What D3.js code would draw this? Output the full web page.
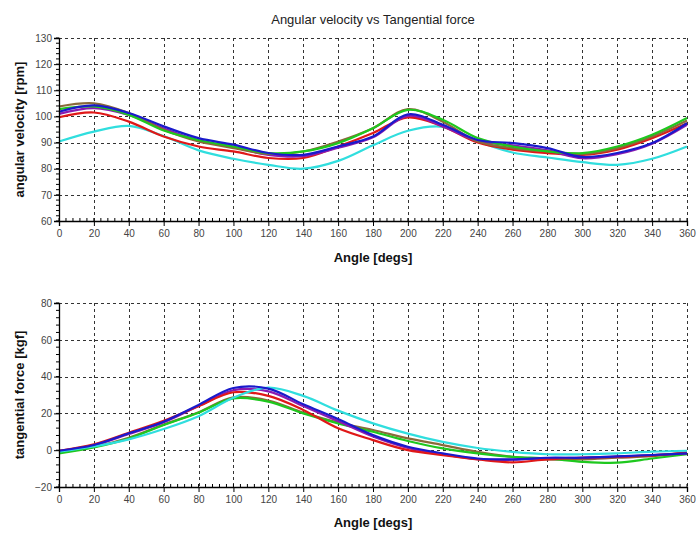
<!DOCTYPE html>
<html>
<head>
<meta charset="utf-8">
<script src="https://cdn.jsdelivr.net/npm/d3@7/dist/d3.min.js"></script>
<style>
  html, body { margin: 0; padding: 0; background: #fff; }
  svg { display: block; font-family: "Liberation Sans", Arial, sans-serif; }
</style>
</head>
<body>
<svg id="chart" width="697" height="534"></svg>
<script>
// Crank angle samples (degrees)
const angles = [0, 20, 40, 60, 80, 100, 120, 140, 160, 180, 200, 220, 240, 260, 280, 300, 320, 340, 360];
const xTicks = d3.range(0, 361, 20);

// Angular velocity [rpm], one array per test run
const velRed    = [99.7, 101.5, 98.0, 92.3, 88.5, 86.6, 84.1, 84.1, 88.5, 93.7, 99.6, 96.2, 90.0, 87.3, 86.0, 85.3, 87.3, 91.7, 97.4];
const velBlue   = [101.8, 104.2, 101.3, 96.2, 91.7, 89.2, 86.0, 85.3, 88.5, 92.3, 100.8, 96.8, 91.0, 89.8, 87.9, 84.5, 86.0, 89.8, 97.4];
const velPurple = [101.0, 103.2, 100.6, 95.4, 90.8, 88.2, 85.3, 84.8, 88.0, 92.0, 100.2, 96.2, 90.6, 88.9, 87.0, 84.0, 85.6, 89.6, 96.8];
const velGreen  = [102.8, 103.8, 100.6, 94.6, 91.0, 88.5, 86.0, 86.6, 89.8, 95.5, 102.5, 98.7, 91.7, 88.5, 86.6, 86.0, 88.5, 93.0, 99.4];
const velBrown  = [103.8, 105.0, 101.3, 94.9, 90.4, 87.9, 85.7, 86.6, 90.4, 95.5, 102.8, 98.0, 90.4, 87.9, 86.6, 85.7, 87.9, 92.3, 98.4];
const velCyan   = [90.4, 94.2, 96.4, 92.5, 87.0, 83.8, 81.5, 80.0, 83.0, 89.0, 94.5, 96.0, 90.5, 86.2, 84.3, 82.5, 81.5, 83.8, 88.5];

// Tangential force [kgf]
const forceRed    = [-0.3, 3.2, 9.5, 16.0, 23.9, 31.5, 29.5, 21.9, 11.9, 5.5, 0.0, -2.7, -5.0, -6.6, -5.0, -4.2, -3.6, -2.8, -1.5];
const forceBlue   = [-0.3, 2.8, 9.2, 15.5, 24.6, 33.8, 33.5, 25.0, 17.0, 8.2, 1.9, -1.7, -4.5, -5.0, -4.1, -4.1, -3.4, -2.6, -1.7];
const forcePurple = [-0.5, 2.6, 8.8, 15.2, 24.0, 32.6, 32.0, 24.0, 15.8, 7.4, 1.2, -2.2, -4.8, -5.2, -4.4, -4.0, -3.5, -2.7, -1.8];
const forceGreen  = [-1.7, 1.5, 6.4, 13.7, 20.4, 28.2, 26.4, 20.0, 14.6, 10.0, 5.0, 1.0, -1.7, -3.6, -4.5, -6.3, -6.8, -4.5, -2.2];
const forceBrown  = [-1.2, 1.8, 6.8, 13.9, 20.6, 28.7, 27.0, 20.4, 15.0, 11.0, 6.4, 2.8, -0.9, -3.6, -5.0, -5.0, -4.1, -3.3, -1.2];
const forceCyan   = [-0.8, 2.0, 5.9, 11.5, 18.5, 28.5, 34.0, 29.5, 21.5, 14.6, 9.0, 4.5, 1.2, -0.9, -2.2, -2.2, -1.7, -0.8, -0.3];

const colors = {
  red: "#e01818", blue: "#1a1acc", purple: "#8a1ab0",
  green: "#1ec81e", brown: "#8a6a3a", cyan: "#30dede"
};

const velSeries = [
  { c: colors.cyan, v: velCyan }, { c: colors.red, v: velRed },
  { c: colors.purple, v: velPurple }, { c: colors.brown, v: velBrown },
  { c: colors.green, v: velGreen }, { c: colors.blue, v: velBlue }
];
const forceSeries = [
  { c: colors.brown, v: forceBrown }, { c: colors.green, v: forceGreen },
  { c: colors.purple, v: forcePurple }, { c: colors.red, v: forceRed },
  { c: colors.cyan, v: forceCyan }, { c: colors.blue, v: forceBlue }
];

const svg = d3.select("#chart");
const x = d3.scaleLinear().domain([0, 360]).range([59, 687]);

svg.append("text")
  .attr("x", 373).attr("y", 24)
  .attr("text-anchor", "middle")
  .attr("font-size", 13).attr("fill", "#222")
  .text("Angular velocity vs Tangential force");

function panel(opts) {
  const y = d3.scaleLinear().domain(opts.domain).range(opts.range);
  const g = svg.append("g");
  const [y0, y1] = opts.range;

  // dashed grid
  const grid = g.append("g").attr("stroke", "#333").attr("stroke-dasharray", "3,3").attr("stroke-width", 1);
  opts.yTicks.forEach(t => {
    if (t === opts.domain[0]) return;
    grid.append("line").attr("x1", x(0)).attr("x2", x(360))
      .attr("y1", Math.round(y(t)) + 0.5).attr("y2", Math.round(y(t)) + 0.5);
  });
  xTicks.forEach(t => {
    if (t === 0) return;
    grid.append("line").attr("y1", y1).attr("y2", y0)
      .attr("x1", Math.round(x(t)) + 0.5).attr("x2", Math.round(x(t)) + 0.5);
  });

  // curves
  const line = d3.line()
    .x((d, i) => x(angles[i]))
    .y(d => y(d))
    .curve(d3.curveCatmullRom.alpha(0.5));
  opts.series.forEach(s => {
    g.append("path").datum(s.v)
      .attr("fill", "none").attr("stroke", s.c)
      .attr("stroke-width", 2.2).attr("stroke-linejoin", "round")
      .attr("d", line);
  });

  // left axis with minor ticks
  const yAxis = d3.axisLeft(y).tickValues(opts.yTicks).tickSize(5).tickPadding(2);
  const ya = g.append("g").attr("transform", `translate(${x(0)},0)`).call(yAxis);
  const yMinor = d3.range(opts.domain[0], opts.domain[1] + 0.001, opts.minorStep);
  ya.selectAll(".minor").data(yMinor).enter().append("line")
    .attr("class", "minor").attr("stroke", "#000")
    .attr("x1", -3).attr("x2", 0)
    .attr("y1", d => y(d)).attr("y2", d => y(d));

  // bottom axis with minor ticks
  const xAxis = d3.axisBottom(x).tickValues(xTicks).tickSize(5).tickPadding(4);
  const xa = g.append("g").attr("transform", `translate(0,${y0})`).call(xAxis);
  xa.selectAll(".minor").data(d3.range(0, 361, 4)).enter().append("line")
    .attr("class", "minor").attr("stroke", "#000")
    .attr("y1", -3).attr("y2", 0)
    .attr("x1", d => x(d)).attr("x2", d => x(d));

  [ya, xa].forEach(a => {
    a.select(".domain").attr("stroke", "#000").attr("stroke-width", 1.3);
    a.selectAll("text").attr("font-size", 10).attr("fill", "#444")
      .attr("font-family", "'Liberation Sans', Arial, sans-serif");
  });

  g.append("text")
    .attr("x", 373).attr("y", opts.xLabelY)
    .attr("text-anchor", "middle")
    .attr("font-size", 13).attr("font-weight", "bold").attr("fill", "#111")
    .text("Angle [degs]");

  g.append("text")
    .attr("transform", `translate(24,${(y0 + y1) / 2}) rotate(-90)`)
    .attr("text-anchor", "middle")
    .attr("font-size", 13).attr("font-weight", "bold").attr("fill", "#111")
    .text(opts.yLabel);
}

panel({
  domain: [60, 130], range: [221, 38],
  yTicks: d3.range(60, 131, 10), minorStep: 2,
  series: velSeries,
  yLabel: "angular velocity [rpm]",
  xLabelY: 262
});

panel({
  domain: [-20, 80], range: [487, 303],
  yTicks: d3.range(-20, 81, 20), minorStep: 4,
  series: forceSeries,
  yLabel: "tangential force [kgf]",
  xLabelY: 527
});
</script>
</body>
</html>
